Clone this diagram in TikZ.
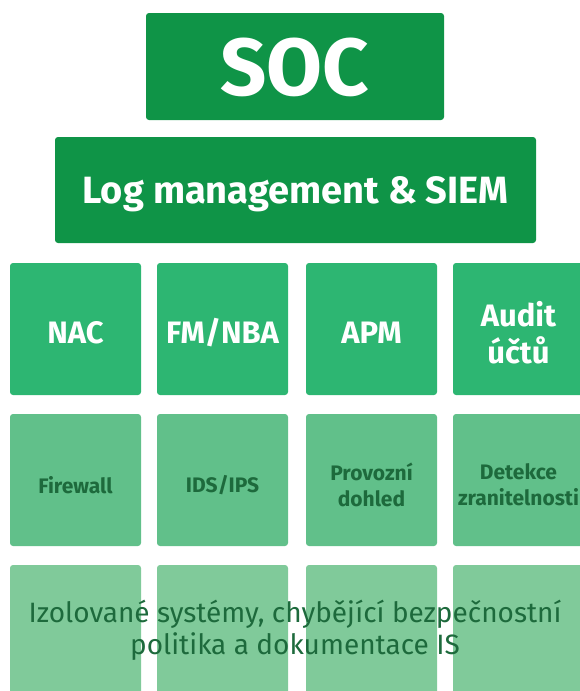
\documentclass[tikz,border=0pt]{standalone}
\usepackage{fontspec}
\setmainfont{Fira Sans}
\usetikzlibrary{positioning}
\definecolor{socgreen}{HTML}{0F9447}
\definecolor{toprow}{HTML}{2DB672}
\definecolor{midrow}{HTML}{61C08A}
\definecolor{lowrow}{HTML}{80CA9A}
\definecolor{darktext}{HTML}{1D6A3C}

\begin{document}
\begin{tikzpicture}[x=1pt,y=-1pt,
  bar/.style={fill=socgreen, rounded corners=3pt, inner sep=0pt},
  tile/.style={rounded corners=3pt, inner sep=0pt, minimum width=131pt, minimum height=132pt},
  toptile/.style={tile, fill=toprow},
  midtile/.style={tile, fill=midrow},
  lowtile/.style={tile, fill=lowrow},
  toptext/.style={text=white, align=center, yshift=-4pt, font=\fontsize{31}{37}\selectfont\bfseries},
  midtext/.style={text=darktext, align=center, yshift=-5pt, font=\fontsize{21}{26}\selectfont\bfseries}]
\useasboundingbox (0,0) rectangle (580,691);
\clip (0,0) rectangle (580,691);

% top of the pyramid
\node[bar, minimum width=298pt, minimum height=107pt,
  label={[text=white, yshift=-1pt, font=\fontsize{81}{81}\selectfont\bfseries]center:SOC}] (soc) at (295,66.5) {};
\node[bar, minimum width=481pt, minimum height=106pt,
  label={[text=white, yshift=-4pt, font=\fontsize{38}{38}\selectfont\bfseries]center:Log management \& SIEM}] (siem) at (295.5,190) {};

% tools
\node[toptile, label={[toptext]center:NAC}]             (nac)   at (75.5,329)  {};
\node[toptile, label={[toptext]center:FM/NBA}]          (fmnba) at (222.5,329) {};
\node[toptile, label={[toptext]center:APM}]             (apm)   at (371.5,329) {};
\node[toptile, label={[toptext]center:Audit\\účtů}]     (audit) at (518.5,329) {};

\node[midtile, label={[midtext]center:Firewall}]               (fw)   at (75.5,480)  {};
\node[midtile, label={[midtext]center:IDS/IPS}]                (ids)  at (222.5,480) {};
\node[midtile, label={[midtext]center:Provozní\\dohled}]       (prov) at (371.5,480) {};
\node[midtile, label={[midtext]center:Detekce\\zranitelnosti}] (det)  at (518.5,480) {};

% base
\foreach \i/\x in {1/75.5,2/222.5,3/371.5,4/518.5}
  \node[lowtile] (base\i) at (\x,631) {};
\node[text=darktext, align=center, font=\fontsize{28}{32}\selectfont] (basetext) at (295,630)
  {Izolované systémy, chybějící bezpečnostní\\politika a dokumentace IS};

\end{tikzpicture}
\end{document}
